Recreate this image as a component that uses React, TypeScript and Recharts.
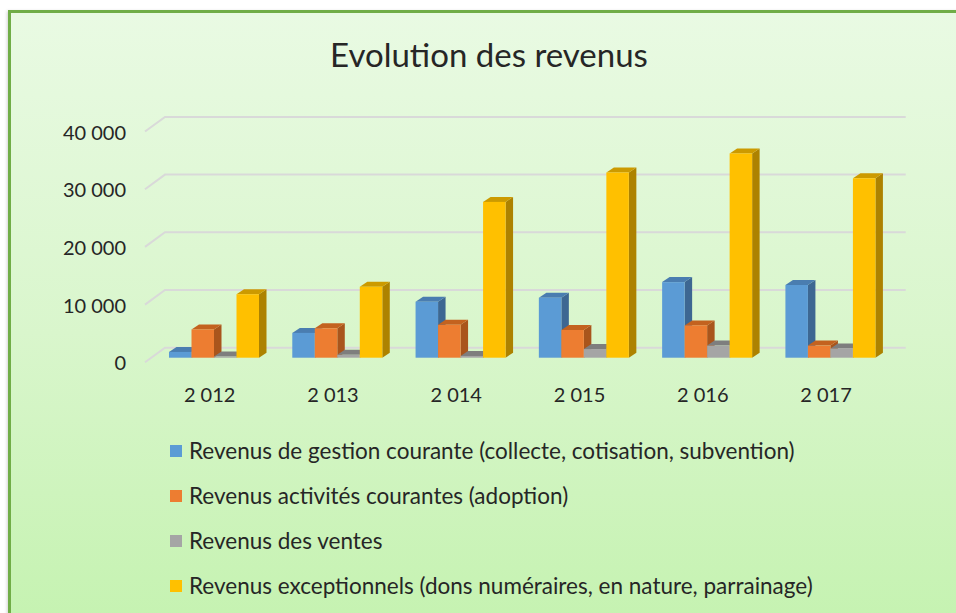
import { BarChart, Bar, XAxis, YAxis, CartesianGrid, Legend } from 'recharts';

// values (euros per year)
const years = ['2 012', '2 013', '2 014', '2 015', '2 016', '2 017'];
const gestion = [1000, 4300, 9700, 10400, 13100, 12600];
const activites = [4900, 5100, 5700, 4800, 5600, 2100];
const ventes = [200, 500, 300, 1500, 2100, 1600];
const exceptionnels = [11000, 12300, 27000, 32100, 35400, 31100];
const yTicks = [0, 10000, 20000, 30000, 40000];

const series = [
  { key: 'gestion', name: 'Revenus de gestion courante (collecte, cotisation, subvention)', front: '#5b9bd5', top: '#4a7db0', side: '#3d6792' },
  { key: 'activites', name: 'Revenus activités courantes (adoption)', front: '#ed7d31', top: '#c3621f', side: '#a9551c' },
  { key: 'ventes', name: 'Revenus des ventes', front: '#a5a5a5', top: '#7e7e7e', side: '#767676' },
  { key: 'exceptionnels', name: 'Revenus exceptionnels (dons numéraires, en nature, parrainage)', front: '#ffc000', top: '#cc9a00', side: '#ad8200' },
];

const data = years.map((year, i) => ({
  year,
  gestion: gestion[i],
  activites: activites[i],
  ventes: ventes[i],
  exceptionnels: exceptionnels[i],
}));

const FONT = 'Lato, "Open Sans", sans-serif';
const TEXT = '#262626';

const fmt = (v: number) => String(v).replace(/\B(?=(\d{3})+(?!\d))/g, ' ');

// fake 3D column: front face + top cap + right side
const Bar3D = (p: any) => {
  const { x, y, width, height, fill, top, side } = p;
  const dx = 7.5;
  const dy = 5;
  if (width == null || height == null) return null;
  return (
    <g>
      <polygon points={`${x + width},${y} ${x + width + dx},${y - dy} ${x + width + dx},${y + height - dy} ${x + width},${y + height}`} fill={side} />
      <polygon points={`${x},${y} ${x + dx},${y - dy} ${x + width + dx},${y - dy} ${x + width},${y}`} fill={top} />
      <rect x={x} y={y} width={width} height={Math.max(height, 0)} fill={fill} />
    </g>
  );
};

// gridline on the back wall with the floor/side diagonal
const gridLine = (p: any) => {
  const { x1, x2, y1 } = p;
  return (
    <polyline
      key={p.key ?? `g-${y1}`}
      points={`${x1 - 7},${y1 + 4.6} ${x1 + 13},${y1 - 10} ${x2 + 14},${y1 - 10}`}
      fill="none"
      stroke="#d9d9d9"
      strokeWidth={2}
    />
  );
};

const YTick = ({ x, y, payload }: any) => (
  <text x={x - 26} y={y + 4.6} textAnchor="end" dominantBaseline="central" fontSize={20} fontFamily={FONT} fill={TEXT}>
    {fmt(payload.value)}
  </text>
);

const XTick = ({ x, y, payload }: any) => (
  <text x={x - 4} y={y + 36} textAnchor="middle" dominantBaseline="central" fontSize={20} fontFamily={FONT} fill={TEXT}>
    {payload.value}
  </text>
);

const order = series.map((s) => s.name);

const LegendContent = ({ payload }: any) => {
  const items = [...(payload || [])].sort((a: any, b: any) => order.indexOf(a.value) - order.indexOf(b.value));
  return (
    <div style={{ fontFamily: FONT, fontSize: 22.5, color: TEXT }}>
      {items.map((e: any) => (
        <div key={e.value} style={{ display: 'flex', alignItems: 'center', height: 45, whiteSpace: 'nowrap' }}>
          <span style={{ width: 12, height: 12, background: e.color, marginRight: 7, display: 'inline-block' }} />
          <span>{e.value}</span>
        </div>
      ))}
    </div>
  );
};

export default function App() {
  return (
    <div style={{ position: 'absolute', left: 0, top: 0, width: 956, height: 613, overflow: 'hidden', background: '#fff' }}>
      <div
        style={{
          position: 'absolute', left: 8, top: 10, width: 1000, height: 640,
          border: '3px solid #70ad47',
          background: 'linear-gradient(180deg, #e9fae3 0%, #d9f6cc 50%, #c3f2ae 100%)',
          boxShadow: '-1px 1px 3px rgba(0,0,0,0.18)',
        }}
      />
      <div
        style={{
          position: 'absolute', left: 0, width: 978, top: 34, textAlign: 'center',
          fontFamily: FONT, fontSize: 33, color: TEXT, lineHeight: '40px',
        }}
      >
        Evolution des revenus
      </div>
      <BarChart
        width={956}
        height={613}
        data={data}
        margin={{ top: 126.9, right: 64.3, bottom: 215.3, left: 0 }}
        barGap={0}
        barSize={22.5}
        style={{ position: 'absolute', left: 0, top: 0 }}
      >
        <CartesianGrid vertical={false} horizontal={gridLine} />
        <XAxis dataKey="year" axisLine={false} tickLine={false} tickSize={0} tickMargin={0} height={40} tick={<XTick />} interval={0} />
        <YAxis
          domain={[0, 40000]}
          ticks={yTicks}
          width={152}
          axisLine={false}
          tickLine={false}
          tickSize={0}
          tickMargin={0}
          tick={<YTick />}
        />
        <Legend
          layout="vertical"
          align="center"
          verticalAlign="middle"
          itemSorter={null}
          content={<LegendContent />}
          wrapperStyle={{ top: 428, left: 170, width: 760 }}
        />
        {series.map((s) => (
          <Bar
            key={s.key}
            dataKey={s.key}
            name={s.name}
            fill={s.front}
            isAnimationActive={false}
            shape={(p: any) => <Bar3D {...p} top={s.top} side={s.side} />}
          />
        ))}
      </BarChart>
    </div>
  );
}
